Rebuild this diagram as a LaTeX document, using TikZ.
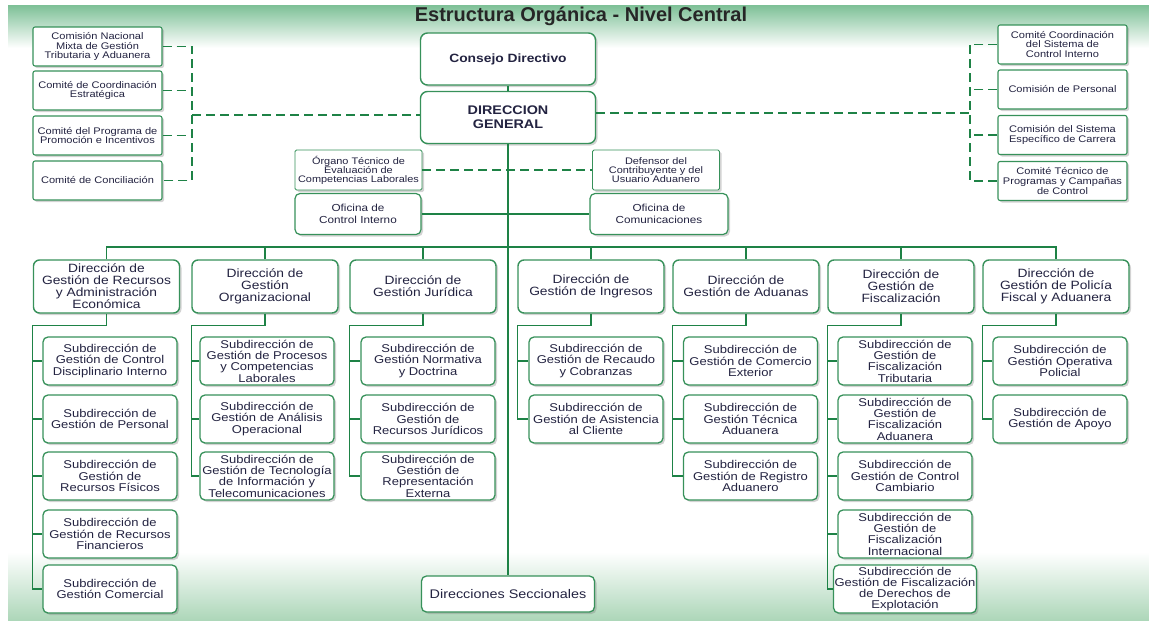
\documentclass[tikz,border=0pt]{standalone}
\usepackage{fontspec}
\setmainfont{Liberation Sans}[FakeStretch=1.15]
\newfontfamily\titlefont{Liberation Sans}
\usetikzlibrary{shadows}
\definecolor{linegreen}{RGB}{30,130,70}
\definecolor{boxgreen}{RGB}{55,145,90}
\definecolor{bandgreen}{RGB}{125,192,150}
\definecolor{lowgreen}{RGB}{172,214,184}
\definecolor{txt}{RGB}{35,35,65}

\begin{document}
\begin{tikzpicture}[x=1pt, y=-1pt,
    caja/.style={draw=boxgreen, fill=white, text=txt, align=center, inner sep=1pt,
        drop shadow={shadow xshift=2pt, shadow yshift=-2pt, opacity=0.35}},
    comite/.style={caja, line width=1.1pt, rounded corners=2pt, minimum width=129pt, minimum height=39pt,
        font=\fontsize{9.6}{9.6}\selectfont},
    mando/.style={caja, line width=1.4pt, rounded corners=7pt, minimum width=175pt, minimum height=52pt,
        font=\fontsize{12}{14}\selectfont\bfseries},
    asesor/.style={caja, line width=0.9pt, rounded corners=1.5pt, minimum width=127pt, minimum height=40pt,
        font=\fontsize{9.5}{9}\selectfont},
    oficina/.style={caja, line width=1.2pt, rounded corners=5pt, minimum height=41pt,
        font=\fontsize{10.2}{12}\selectfont},
    direccion/.style={caja, line width=1.4pt, rounded corners=6pt, minimum width=146pt, minimum height=53pt,
        font=\fontsize{12}{12}\selectfont},
    subdir/.style={caja, line width=1.3pt, rounded corners=5pt, minimum width=134pt, minimum height=48pt,
        font=\fontsize{11.3}{11.3}\selectfont},
    seccional/.style={caja, line width=1.3pt, rounded corners=5pt, minimum width=173pt, minimum height=36pt,
        font=\fontsize{12.5}{13}\selectfont},
    linea/.style={draw=linegreen, line width=1.1pt},
    trazo/.style={draw=linegreen, line width=1.1pt, dash pattern=on 9pt off 5pt}]

    \useasboundingbox (0,0) rectangle (1149,621);
    \shade[top color=bandgreen, bottom color=white] (8,5) rectangle (1149,48);
    \shade[top color=white, bottom color=lowgreen] (8,552) rectangle (1149,621);
    \node[font=\titlefont\fontsize{20}{20}\selectfont\bfseries, text=black!85] (titulo) at (581,16) {Estructura Orgánica - Nivel Central};

    % nivel superior
    \node[mando] (cd) at (508,59) {Consejo Directivo};
    \node[mando, font=\fontsize{12.5}{14}\selectfont\bfseries] (dg) at (508,117.5) {DIRECCION\\GENERAL};

    \node[comite] (lc1) at (97.5,46.5) {Comisión Nacional\\Mixta de Gestión\\Tributaria y Aduanera};
    \node[comite] (lc2) at (97.5,90.5) {Comité de Coordinación\\Estratégica};
    \node[comite] (lc3) at (97.5,135.5) {Comité del Programa de\\Promoción e Incentivos};
    \node[comite] (lc4) at (97.5,180.5) {Comité de Conciliación};

    \node[comite] (rc1) at (1062.5,44.5) {Comité Coordinación\\del Sistema de\\Control Interno};
    \node[comite] (rc2) at (1062.5,89.5) {Comisión de Personal};
    \node[comite] (rc3) at (1062.5,135) {Comisión del Sistema\\Específico de Carrera};
    \node[comite] (rc4) at (1062.5,181) {Comité Técnico de\\Programas y Campañas\\de Control};

    \node[asesor] (otec) at (358.5,170) {Órgano Técnico de\\Evaluación de\\Competencias Laborales};
    \node[asesor] (def) at (656,170) {Defensor del\\Contribuyente y del\\Usuario Aduanero};
    \node[oficina, minimum width=126pt] (oci) at (358,214) {Oficina de\\Control Interno};
    \node[oficina, minimum width=138pt] (ocom) at (659,214) {Oficina de\\Comunicaciones};

    \coordinate (lj) at (192,115);
    \coordinate (rj) at (970,113);
    \coordinate (bus) at (508,247);

    \draw[linea] (cd) -- (dg);
    \draw[trazo] (lc1.east) -| (lj |- lc4.east) -- (lc4.east);
    \draw[trazo] (lc2.east) -- (lc2.east -| lj);
    \draw[trazo] (lc3.east) -- (lc3.east -| lj);
    \draw[trazo] (lj) -- (lj -| dg.west);
    \draw[trazo] (rc1.west) -| (rj |- rc4.west) -- (rc4.west);
    \draw[trazo] (rc2.west) -- (rc2.west -| rj);
    \draw[trazo] (rc3.west) -- (rc3.west -| rj);
    \draw[trazo] (dg.east |- rj) -- (rj);
    \draw[trazo] (otec.east) -- (def.west);
    \draw[linea] (oci.east) -- (ocom.west);

    % direcciones
    \node[direccion] (d1) at (106.5,286.5) {Dirección de\\Gestión de Recursos\\y Administración\\Económica};
    \node[direccion] (d2) at (265,286.5) {Dirección de\\Gestión\\Organizacional};
    \node[direccion] (d3) at (423,286.5) {Dirección de\\Gestión Jurídica};
    \node[direccion] (d4) at (591,286.5) {Dirección de\\Gestión de Ingresos};
    \node[direccion] (d5) at (746,286.5) {Dirección de\\Gestión de Aduanas};
    \node[direccion] (d6) at (901,286.5) {Dirección de\\Gestión de\\Fiscalización};
    \node[direccion] (d7) at (1056,286.5) {Dirección de\\Gestión de Policía\\Fiscal y Aduanera};

    \node[seccional] (ds) at (508,594) {Direcciones Seccionales};

    \draw[linea] (dg.south) -- (dg.south |- ds.north);
    \draw[linea] (d1.north) |- (bus) -| (d7.north);
    \draw[linea] (d2.north) -- (d2.north |- bus);
    \draw[linea] (d3.north) -- (d3.north |- bus);
    \draw[linea] (d4.north) -- (d4.north |- bus);
    \draw[linea] (d5.north) -- (d5.north |- bus);
    \draw[linea] (d6.north) -- (d6.north |- bus);

    % subdirecciones
    \node[subdir] (s11) at (110,361) {Subdirección de\\Gestión de Control\\Disciplinario Interno};
    \node[subdir] (s12) at (110,419) {Subdirección de\\Gestión de Personal};
    \node[subdir] (s13) at (110,476) {Subdirección de\\Gestión de\\Recursos Físicos};
    \node[subdir] (s14) at (110,534) {Subdirección de\\Gestión de Recursos\\Financieros};
    \node[subdir] (s15) at (110,589) {Subdirección de\\Gestión Comercial};

    \node[subdir] (s21) at (267,361) {Subdirección de\\Gestión de Procesos\\y Competencias\\Laborales};
    \node[subdir] (s22) at (267,419) {Subdirección de\\Gestión de Análisis\\Operacional};
    \node[subdir] (s23) at (267,476) {Subdirección de\\Gestión de Tecnología\\de Información y\\Telecomunicaciones};

    \node[subdir] (s31) at (428,361) {Subdirección de\\Gestión Normativa\\y Doctrina};
    \node[subdir] (s32) at (428,419) {Subdirección de\\Gestión de\\Recursos Jurídicos};
    \node[subdir] (s33) at (428,476) {Subdirección de\\Gestión de\\Representación\\Externa};

    \node[subdir] (s41) at (596,361) {Subdirección de\\Gestión de Recaudo\\y Cobranzas};
    \node[subdir] (s42) at (596,419) {Subdirección de\\Gestión de Asistencia\\al Cliente};

    \node[subdir] (s51) at (750.5,361) {Subdirección de\\Gestión de Comercio\\Exterior};
    \node[subdir] (s52) at (750.5,419) {Subdirección de\\Gestión Técnica\\Aduanera};
    \node[subdir] (s53) at (750.5,476) {Subdirección de\\Gestión de Registro\\Aduanero};

    \node[subdir] (s61) at (905,361) {Subdirección de\\Gestión de\\Fiscalización\\Tributaria};
    \node[subdir] (s62) at (905,419) {Subdirección de\\Gestión de\\Fiscalización\\Aduanera};
    \node[subdir] (s63) at (905,476) {Subdirección de\\Gestión de Control\\Cambiario};
    \node[subdir] (s64) at (905,534) {Subdirección de\\Gestión de\\Fiscalización\\Internacional};
    \node[subdir] (s65) at (905,589) {Subdirección de\\Gestión de Fiscalización\\de Derechos de\\Explotación};

    \node[subdir] (s71) at (1060,361) {Subdirección de\\Gestión Operativa\\Policial};
    \node[subdir] (s72) at (1060,419) {Subdirección de\\Gestión de Apoyo};

    \draw[linea] (d1.south) -- ++(0,12) -| (d1.west |- s15.west) -- (s15.west);
    \draw[linea] (d1.west |- s11.west) -- (s11.west);
    \draw[linea] (d1.west |- s12.west) -- (s12.west);
    \draw[linea] (d1.west |- s13.west) -- (s13.west);
    \draw[linea] (d1.west |- s14.west) -- (s14.west);

    \draw[linea] (d2.south) -- ++(0,12) -| (d2.west |- s23.west) -- (s23.west);
    \draw[linea] (d2.west |- s21.west) -- (s21.west);
    \draw[linea] (d2.west |- s22.west) -- (s22.west);

    \draw[linea] (d3.south) -- ++(0,12) -| (d3.west |- s33.west) -- (s33.west);
    \draw[linea] (d3.west |- s31.west) -- (s31.west);
    \draw[linea] (d3.west |- s32.west) -- (s32.west);

    \draw[linea] (d4.south) -- ++(0,12) -| (d4.west |- s42.west) -- (s42.west);
    \draw[linea] (d4.west |- s41.west) -- (s41.west);

    \draw[linea] (d5.south) -- ++(0,12) -| (d5.west |- s53.west) -- (s53.west);
    \draw[linea] (d5.west |- s51.west) -- (s51.west);
    \draw[linea] (d5.west |- s52.west) -- (s52.west);

    \draw[linea] (d6.south) -- ++(0,12) -| (d6.west |- s65.west) -- (s65.west);
    \draw[linea] (d6.west |- s61.west) -- (s61.west);
    \draw[linea] (d6.west |- s62.west) -- (s62.west);
    \draw[linea] (d6.west |- s63.west) -- (s63.west);
    \draw[linea] (d6.west |- s64.west) -- (s64.west);

    \draw[linea] (d7.south) -- ++(0,12) -| (d7.west |- s72.west) -- (s72.west);
    \draw[linea] (d7.west |- s71.west) -- (s71.west);

\end{tikzpicture}
\end{document}
